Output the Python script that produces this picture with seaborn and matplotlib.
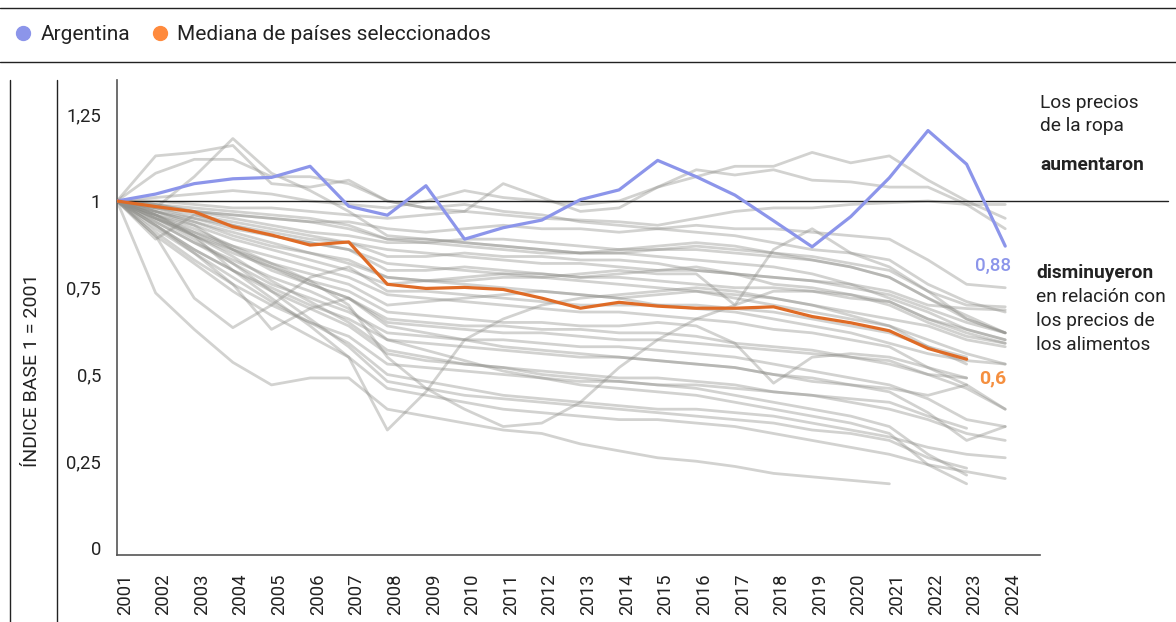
import numpy as np
import pandas as pd
import matplotlib.pyplot as plt
import seaborn as sns
from matplotlib.lines import Line2D

nan = np.nan

# Índice de precios de la ropa relativo a alimentos (base 1 = 2001)
years = list(range(2001, 2025))

argentina = [1.00, 1.02, 1.05, 1.064, 1.068, 1.10, 0.985, 0.959, 1.044, 0.89, 0.923, 0.945,
             1.004, 1.032, 1.117, 1.07, 1.017, 0.943, 0.868, 0.955, 1.067, 1.203, 1.106, 0.87]
mediana = [1.00, 0.984, 0.969, 0.926, 0.902, 0.873, 0.882, 0.760, 0.748, 0.751, 0.745, 0.72,
           0.691, 0.708, 0.697, 0.691, 0.691, 0.695, 0.667, 0.649, 0.626, 0.575, 0.544, nan]

# resto de países seleccionados (líneas grises)
p01 = [1.00, 1.01, 1.02, 1.03, 1.02, 1.00, 0.99, 0.98, 1.00, 1.03, 1.01, 1.00, 0.99, 1.00, 1.04, 1.07, 1.10, 1.10, 1.14, 1.11, 1.13, 1.06, 1.00, 0.95]
p02 = [1.00, 1.00, 0.99, 0.98, 0.98, 0.97, 0.96, 0.95, 0.96, 0.97, 1.05, 1.01, 0.97, 0.98, 1.04, 1.09, 1.075, 1.09, 1.06, 1.055, 1.04, 1.04, 0.99, 0.92]
p03 = [1.00, 0.99, 0.97, 0.96, 0.95, 0.94, 0.94, 0.92, 0.91, 0.92, 0.93, 0.92, 0.92, 0.91, 0.92, 0.93, 0.92, 0.92, 0.91, 0.90, 0.89, 0.83, 0.76, 0.75]
p04 = [1.00, 0.98, 0.97, 0.95, 0.93, 0.91, 0.90, 0.88, 0.88, 0.89, 0.89, 0.88, 0.87, 0.86, 0.86, 0.87, 0.86, 0.85, 0.84, 0.82, 0.80, 0.74, 0.70, 0.695]
p05 = [1.00, 0.97, 0.95, 0.93, 0.91, 0.89, 0.88, 0.84, 0.84, 0.85, 0.84, 0.84, 0.83, 0.83, 0.82, 0.80, 0.79, 0.78, 0.77, 0.76, 0.74, 0.70, 0.69, 0.686]
p06 = [1.00, 0.98, 0.96, 0.94, 0.92, 0.90, 0.88, 0.86, 0.85, 0.84, 0.83, 0.82, 0.82, 0.81, 0.80, 0.80, 0.79, 0.78, 0.77, 0.75, 0.73, 0.69, 0.65, 0.62]
p07 = [1.00, 0.99, 0.97, 0.96, 0.95, 0.94, 0.92, 0.89, 0.89, 0.88, 0.87, 0.86, 0.85, 0.85, 0.84, 0.83, 0.82, 0.81, 0.79, 0.76, 0.72, 0.68, 0.63, 0.60]
p08 = [1.00, 0.96, 0.93, 0.89, 0.86, 0.83, 0.80, 0.76, 0.77, 0.78, 0.79, 0.79, 0.78, 0.79, 0.80, 0.81, 0.79, 0.76, 0.75, 0.73, 0.70, 0.65, 0.61, 0.59]
p09 = [1.00, 0.95, 0.90, 0.86, 0.82, 0.79, 0.76, 0.70, 0.71, 0.72, 0.73, 0.74, 0.73, 0.72, 0.73, 0.74, 0.73, 0.72, 0.70, 0.68, 0.66, 0.64, 0.60, 0.58]
p10 = [1.00, 0.97, 0.94, 0.91, 0.88, 0.85, 0.82, 0.78, 0.77, 0.76, 0.75, 0.74, 0.73, 0.72, 0.70, 0.69, 0.68, 0.66, 0.64, 0.62, 0.59, 0.56, 0.54, 0.53]
p11 = [1.00, 0.95, 0.91, 0.87, 0.84, 0.81, 0.78, 0.73, 0.72, 0.71, 0.70, 0.69, 0.68, 0.68, 0.67, 0.66, 0.65, 0.63, 0.62, 0.60, 0.58, 0.52, 0.47, 0.40]
p12 = [1.00, 0.94, 0.88, 0.82, 0.76, 0.72, 0.68, 0.62, 0.61, 0.60, 0.60, 0.59, 0.58, 0.58, 0.57, 0.56, 0.55, 0.53, 0.51, 0.49, 0.47, 0.43, 0.37, 0.35]
p13 = [1.00, 0.93, 0.86, 0.80, 0.74, 0.69, 0.64, 0.56, 0.54, 0.53, 0.52, 0.51, 0.50, 0.49, 0.49, 0.48, 0.47, 0.45, 0.44, 0.42, 0.40, 0.37, 0.33, 0.31]
p14 = [1.00, 0.92, 0.85, 0.78, 0.71, 0.65, 0.59, 0.50, 0.48, 0.46, 0.44, 0.43, 0.42, 0.41, 0.40, 0.40, 0.39, 0.38, 0.36, 0.34, 0.32, 0.29, 0.27, 0.26]
p15 = [1.00, 0.90, 0.82, 0.74, 0.67, 0.61, 0.55, 0.46, 0.44, 0.42, 0.40, 0.39, 0.38, 0.37, 0.37, 0.36, 0.35, 0.33, 0.31, 0.29, 0.27, 0.24, 0.22, 0.20]
p16 = [1.00, 0.97, 0.93, 0.86, 0.80, 0.76, 0.72, 0.64, 0.62, 0.60, 0.58, 0.57, 0.56, 0.55, 0.54, 0.53, 0.52, 0.50, 0.49, 0.47, 0.45, 0.39, 0.31, 0.35]
p17 = [1.00, 0.98, 0.95, 0.92, 0.90, 0.88, 0.86, 0.82, 0.81, 0.80, 0.79, 0.78, 0.77, 0.76, 0.75, 0.74, 0.72, 0.70, 0.68, 0.66, 0.64, 0.58, 0.53, nan]
p18 = [1.00, 0.96, 0.91, 0.86, 0.81, 0.76, 0.72, 0.66, 0.65, 0.64, 0.64, 0.63, 0.63, 0.62, 0.62, 0.61, 0.59, 0.58, 0.57, 0.55, 0.53, 0.50, 0.49, nan]
p19 = [1.00, 0.93, 0.86, 0.80, 0.75, 0.70, 0.66, 0.60, 0.59, 0.58, 0.57, 0.56, 0.55, 0.55, 0.54, 0.53, 0.52, 0.50, 0.48, 0.47, 0.46, 0.44, 0.47, nan]
p20 = [1.00, 0.91, 0.83, 0.76, 0.70, 0.65, 0.61, 0.53, 0.52, 0.51, 0.50, 0.49, 0.48, 0.48, 0.47, 0.47, 0.46, 0.45, 0.44, 0.43, 0.42, 0.38, 0.345, nan]
p21 = [1.00, 0.95, 0.89, 0.82, 0.74, 0.66, 0.58, 0.48, 0.46, 0.44, 0.43, 0.42, 0.41, 0.40, 0.39, 0.38, 0.37, 0.36, 0.34, 0.33, 0.31, 0.26, 0.23, nan]
p22 = [1.00, 0.96, 0.90, 0.84, 0.77, 0.71, 0.65, 0.57, 0.55, 0.53, 0.52, 0.50, 0.49, 0.48, 0.47, 0.46, 0.44, 0.42, 0.40, 0.38, 0.35, 0.27, 0.21, nan]
p23 = [1.00, 0.94, 0.88, 0.83, 0.78, 0.74, 0.69, 0.60, 0.57, 0.54, 0.51, 0.49, 0.47, 0.46, 0.45, 0.44, 0.42, 0.40, 0.38, 0.36, 0.33, 0.24, 0.185, nan]
p24 = [1.00, 0.735, 0.63, 0.535, 0.47, 0.49, 0.49, 0.40, 0.38, 0.36, 0.34, 0.33, 0.30, 0.28, 0.26, 0.25, 0.235, 0.215, 0.205, 0.195, 0.185, nan, nan, nan]
p25 = [1.00, 1.13, 1.14, 1.16, 1.05, 1.04, 1.06, 1.00, 0.98, 0.99, 0.97, 0.96, 0.94, 0.93, 0.92, 0.91, 0.90, 0.88, 0.86, 0.85, 0.83, 0.76, 0.71, 0.68]
p26 = [1.00, 0.98, 1.07, 1.18, 1.08, 1.03, 0.97, 0.90, 0.89, 0.88, 0.87, 0.86, 0.85, 0.86, 0.87, 0.88, 0.87, 0.85, 0.83, 0.81, 0.78, 0.72, 0.66, 0.62]
p27 = [1.00, 1.08, 1.12, 1.12, 1.07, 1.07, 1.05, 1.00, 0.98, 0.97, 0.96, 0.95, 0.945, 0.94, 0.93, 0.95, 0.97, 0.98, 0.98, 0.99, 0.995, 1.00, 0.99, 0.99]
p28 = [1.00, 0.89, 0.96, 0.93, 0.90, 0.88, 0.86, 0.80, 0.80, 0.81, 0.80, 0.79, 0.78, 0.78, 0.77, 0.76, 0.75, 0.75, 0.74, 0.72, 0.71, 0.66, 0.63, 0.60]
p29 = [1.00, 0.96, 0.90, 0.80, 0.72, 0.64, 0.55, 0.34, 0.45, 0.60, 0.66, 0.70, 0.72, 0.73, 0.74, 0.75, 0.74, 0.72, 0.70, 0.67, 0.64, 0.60, 0.56, 0.53]
p30 = [1.00, 0.90, 0.72, 0.635, 0.70, 0.78, 0.81, 0.74, 0.74, 0.73, 0.72, 0.71, 0.70, 0.70, 0.70, 0.70, 0.69, 0.68, 0.66, 0.64, 0.62, 0.58, 0.55, nan]
p31 = [1.00, 0.93, 0.85, 0.76, 0.63, 0.69, 0.72, 0.65, 0.64, 0.63, 0.62, 0.62, 0.61, 0.60, 0.60, 0.59, 0.58, 0.57, 0.56, 0.55, 0.54, 0.50, 0.46, 0.40]
p32 = [1.00, 0.96, 0.92, 0.87, 0.82, 0.77, 0.70, 0.55, 0.46, 0.40, 0.35, 0.36, 0.42, 0.52, 0.60, 0.66, 0.70, 0.74, 0.74, 0.73, 0.71, 0.66, 0.62, 0.59]
p33 = [1.00, 0.97, 0.94, 0.90, 0.87, 0.85, 0.83, 0.78, 0.77, 0.77, 0.78, 0.78, 0.79, 0.80, 0.79, 0.79, 0.70, 0.86, 0.92, 0.85, 0.81, 0.74, 0.66, 0.62]
p34 = [1.00, 0.95, 0.90, 0.85, 0.81, 0.77, 0.74, 0.68, 0.67, 0.66, 0.65, 0.65, 0.64, 0.64, 0.65, 0.64, 0.59, 0.475, 0.55, 0.56, 0.55, 0.52, 0.49, nan]
p35 = [1.00, 0.99, 0.98, 0.97, 0.96, 0.95, 0.93, 0.89, 0.88, 0.87, 0.86, 0.85, 0.85, 0.85, 0.86, 0.86, 0.85, 0.84, 0.83, 0.81, 0.78, 0.72, 0.67, 0.62]

grises = [p01, p02, p03, p04, p05, p06, p07, p08, p09, p10, p11, p12, p13, p14, p15, p16, p17, p18,
          p19, p20, p21, p22, p23, p24, p25, p26, p27, p28, p29, p30, p31, p32, p33, p34, p35]

# long format para seaborn
rows = []
for i, serie in enumerate(grises):
    for y, v in zip(years, serie):
        rows.append({'pais': f'p{i + 1:02d}', 'year': y, 'valor': v})
df_gris = pd.DataFrame(rows).dropna()
df_arg = pd.DataFrame({'year': years, 'valor': argentina})
df_med = pd.DataFrame({'year': years, 'valor': mediana}).dropna()

sns.set_style('white')
plt.rcParams['font.family'] = ['Roboto', 'DejaVu Sans']

AZUL = '#8c95ea'
NARANJA = '#df6b26'
NARANJA_TXT = '#f58f3f'
TEXTO = '#222222'

fig = plt.figure(figsize=(11.76, 6.22), dpi=100)
ax = fig.add_axes([117 / 1176, 67 / 622, 923 / 1176, 475 / 622])

sns.lineplot(data=df_gris, x='year', y='valor', units='pais', estimator=None,
             color='#8f8f8a', alpha=0.40, linewidth=2.0, ax=ax, legend=False)
ax.axhline(1, xmin=0, xmax=(1168 - 117) / 923, color=TEXTO, lw=1.0, clip_on=False, zorder=3)
sns.lineplot(data=df_arg, x='year', y='valor', color=AZUL, linewidth=2.3, ax=ax, zorder=4)
sns.lineplot(data=df_med, x='year', y='valor', color=NARANJA, linewidth=2.3, ax=ax, zorder=4)

ax.set_xlim(2001, 2024.9)
ax.set_ylim(-0.0202, 1.3487)
ax.set_xlabel('')
ax.set_ylabel('')

for s in ['top', 'right']:
    ax.spines[s].set_visible(False)
for s in ['left', 'bottom']:
    ax.spines[s].set_color('#555555')
    ax.spines[s].set_linewidth(1.2)

yt = [0, 0.25, 0.5, 0.75, 1, 1.25]
ax.set_yticks(yt)
ax.set_yticklabels(['0', '0,25', '0,5', '0,75', '1', '1,25'])
ax.tick_params(axis='y', length=0, pad=11.5, labelsize=13.3, labelcolor=TEXTO)

ax.set_xticks([y + 0.2 for y in years])
ax.set_xticklabels([str(y) for y in years], rotation=90)
ax.tick_params(axis='x', length=9.5, width=1.1, color='#555555', pad=4,
               labelsize=13.3, labelcolor=TEXTO)

# etiquetas de valor final
ax.annotate('0,88', xy=(years[-1], argentina[-1]), xytext=(4, -14), textcoords='offset points',
            ha='right', va='center', color=AZUL, fontsize=13.5, fontweight='medium')
ax.annotate('0,6', xy=(years[-1], mediana[-2]), xytext=(1, -14), textcoords='offset points',
            ha='right', va='center', color=NARANJA_TXT, fontsize=14, fontweight='bold')

# textos de la derecha
notas = [('Los precios', 1040, 103, 'normal'), ('de la ropa', 1040, 126, 'normal'),
         ('aumentaron', 1040, 165, 'bold'), ('disminuyeron', 1036, 273, 'bold'),
         ('en relación con', 1036, 297, 'normal'), ('los precios de', 1036, 321, 'normal'),
         ('los alimentos', 1036, 345, 'normal')]
for txt, px, py, peso in notas:
    fig.text(px / 1176, 1 - py / 622, txt, ha='left', va='center', fontsize=13.8,
             color=TEXTO, fontweight=peso)

# título del eje Y
fig.text(32 / 1176, 1 - 370 / 622, 'ÍNDICE BASE 1 = 2001', rotation=90, ha='center', va='center',
         fontsize=14, color=TEXTO)

# líneas del marco
fig.add_artist(Line2D([0, 1], [1 - 8 / 622, 1 - 8 / 622], color=TEXTO, lw=1.0))
fig.add_artist(Line2D([0, 1], [1 - 62 / 622, 1 - 62 / 622], color=TEXTO, lw=1.0))
fig.add_artist(Line2D([10 / 1176, 10 / 1176], [0, 1 - 80 / 622], color=TEXTO, lw=1.0))
fig.add_artist(Line2D([57 / 1176, 57 / 1176], [0, 1 - 80 / 622], color=TEXTO, lw=1.0))

# leyenda
handles = [Line2D([], [], marker='o', ls='', color=AZUL, markersize=10, label='Argentina'),
           Line2D([], [], marker='o', ls='', color='#ff8a3d', markersize=10,
                  label='Mediana de países seleccionados')]
fig.legend(handles=handles, loc='center left', bbox_to_anchor=(0.0054, 1 - 35 / 622), ncol=2,
           frameon=False, fontsize=15, handlelength=0.8, handletextpad=0.45,
           columnspacing=1.0, borderaxespad=0, labelcolor=TEXTO)

plt.savefig('out.png', dpi=100)
